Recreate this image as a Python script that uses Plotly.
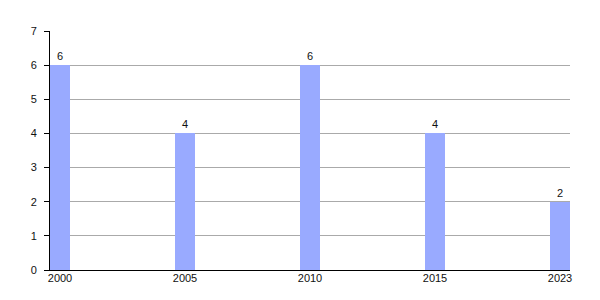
import plotly.graph_objects as go

years = ["2000", "2005", "2010", "2015", "2023"]
values = [6, 4, 6, 4, 2]
y_ticks = [0, 1, 2, 3, 4, 5, 6, 7]

fig = go.Figure(go.Bar(
    x=years, y=values, width=0.16,
    marker=dict(color="#99aaff", line=dict(width=0)),
    text=[str(v) for v in values], textposition="outside",
    textfont=dict(size=11, color="#111111", family="Liberation Sans"),
    cliponaxis=False,
))
fig.update_layout(
    template="none",
    width=600, height=300,
    margin=dict(l=50, r=30, t=31, b=30, pad=0),
    paper_bgcolor="white", plot_bgcolor="white",
    font=dict(family="Liberation Sans", size=11, color="#111111"),
    showlegend=False,
    bargap=0,
)
fig.update_xaxes(
    type="category", range=[-0.08, 4.08],
    showline=True, linecolor="#000000", linewidth=1,
    ticks="", showgrid=False, tickfont=dict(size=11, color="#111111"),
    ticklabelstandoff=-2, zeroline=False,
)
fig.update_yaxes(
    range=[0, 7], tickvals=y_ticks,
    showline=True, linecolor="#000000", linewidth=1,
    ticks="outside", ticklen=5, tickcolor="#000000", tickwidth=1,
    ticklabelstandoff=5,
    showgrid=True, gridcolor="#aaaaaa", gridwidth=1,
    zeroline=False, tickfont=dict(size=11, color="#111111"),
)
fig.write_html("out.html")
